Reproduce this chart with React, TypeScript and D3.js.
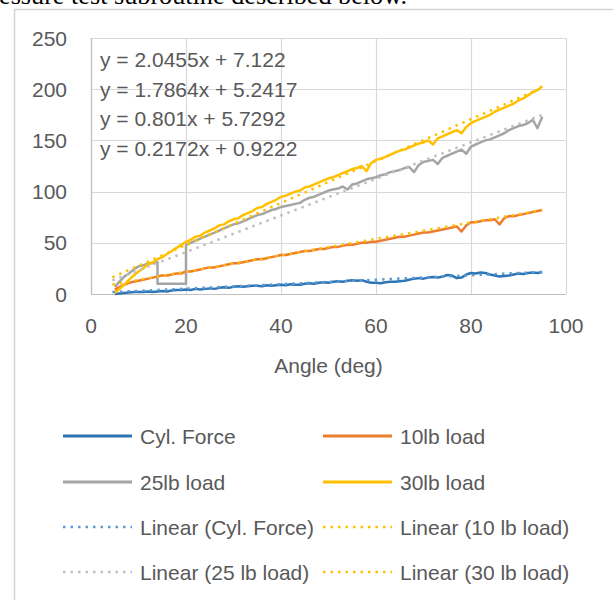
import React from "react";
import * as d3 from "d3";

const angles: number[] = d3.range(5, 96, 1);

const cylForce: number[] = [0, 0.5, 1, 1.5, 2, 2, 2, 2.5, 2, 2.5, 3, 2.5, 3.5, 4, 4, 4.5, 4, 5, 4.5, 5, 5.5, 5, 6, 6.5, 6, 7, 7.5, 7, 7.5, 8, 8, 7.5, 8.5, 8, 8.5, 9, 8.5, 9.5, 9, 9, 10, 10.5, 10, 11, 11.5, 11, 12, 12.5, 12, 13, 13.5, 13, 13.5, 12, 11, 11, 10.5, 11.5, 12, 12, 12.5, 13, 14, 15, 15.5, 15, 16, 16.5, 16, 17, 18.5, 18, 15.5, 16, 19, 20.5, 20, 21, 20.5, 19, 18, 17, 17.5, 18, 19, 20, 19.5, 20.5, 21, 20.5, 21.5];

const load10: number[] = [4, 7, 9, 11, 12, 13, 14, 15, 16, 17, 18, 18, 19, 20, 20, 22, 22, 23, 24, 25, 26, 26, 27, 28, 29, 30, 30, 31, 32, 33, 34, 34, 35, 36, 37, 38, 38, 39, 40, 41, 42, 42, 43, 44, 44, 45, 46, 46, 47, 48, 48, 49, 50, 50, 51, 51, 52, 53, 54, 55, 56, 56, 57, 58, 59, 60, 60, 61, 62, 63, 64, 65, 66, 61, 67, 70, 70, 71, 72, 72, 73, 68, 74, 76, 76, 77, 78, 79, 80, 81, 82];

const angles25: number[] = [5, 6, 7, 8, 9, 10, 11, 12, 13, 14, 14, 15, 16, 17, 18, 19, 20, 20, 21, 22, 23, 24, 25, 26, 27, 28, 29, 30, 31, 32, 33, 34, 35, 36, 37, 38, 39, 40, 41, 42, 43, 44, 45, 46, 47, 48, 49, 50, 51, 52, 53, 54, 55, 56, 57, 58, 59, 60, 61, 62, 63, 64, 65, 66, 67, 68, 69, 70, 71, 72, 73, 74, 75, 76, 77, 78, 79, 80, 81, 82, 83, 84, 85, 86, 87, 88, 89, 90, 91, 92, 93, 94, 95];
const load25: number[] = [7, 12, 17, 20, 24, 27, 28, 30, 30, 31, 10, 10, 10, 10, 10, 10, 10, 48, 50, 52, 54, 56, 58, 60, 62, 64, 66, 68, 69, 71, 73, 75, 77, 78, 80, 82, 83, 85, 86, 87, 88, 89, 92, 94, 95, 97, 99, 101, 102, 103, 105, 102, 107, 108, 110, 112, 113, 114, 116, 117, 119, 120, 121, 123, 124, 119, 126, 129, 130, 131, 127, 133, 135, 137, 139, 141, 137, 144, 146, 148, 150, 151, 153, 155, 157, 160, 162, 164, 165, 167, 170, 162, 173];

const load30: number[] = [1, 5, 9, 14, 18, 22, 25, 29, 31, 34, 36, 39, 42, 45, 48, 51, 53, 56, 57, 60, 62, 64, 67, 68, 71, 73, 74, 77, 79, 81, 84, 85, 88, 90, 92, 95, 96, 98, 100, 101, 104, 105, 107, 109, 111, 113, 114, 116, 118, 120, 122, 123, 125, 120, 128, 131, 132, 134, 136, 138, 140, 141, 143, 145, 147, 148, 150, 146, 152, 154, 156, 158, 160, 157, 163, 167, 169, 171, 173, 175, 178, 180, 182, 184, 186, 189, 191, 194, 197, 199, 203];

const seriesNames: string[] = ["Cyl. Force", "10lb load", "25lb load", "30lb load"];
const seriesColors: string[] = ["#2E75B6", "#ED7D31", "#A5A5A5", "#FFC000"];
const trendNames: string[] = ["Linear (Cyl. Force)", "Linear (10 lb load)", "Linear (25 lb load)", "Linear (30 lb load)"];
const trendColors: string[] = ["#5B9BD5", "#FFC000", "#BFBFBF", "#FFC000"];
const trendSlopes: number[] = [0.2172, 0.801, 1.7864, 2.0455];
const trendIntercepts: number[] = [0.9222, 5.7292, 5.2417, 7.122];
const equationLabels: string[] = ["y = 2.0455x + 7.122", "y = 1.7864x + 5.2417", "y = 0.801x + 5.7292", "y = 0.2172x + 0.9222"];
const xTicks: number[] = [0, 20, 40, 60, 80, 100];
const yTicks: number[] = [0, 50, 100, 150, 200, 250];

const FONT = "'Liberation Sans', Arial, sans-serif";
const TXT = "#595959";

export default function App() {
  const x = d3.scaleLinear().domain([0, 100]).range([91, 566]);
  const y = d3.scaleLinear().domain([0, 250]).range([294, 38]);

  const seriesData: [number, number][][] = [
    angles.map((a, i) => [a, cylForce[i]] as [number, number]),
    angles.map((a, i) => [a, load10[i]] as [number, number]),
    angles25.map((a, i) => [a, load25[i]] as [number, number]),
    angles.map((a, i) => [a, load30[i]] as [number, number]),
  ];
  const line = d3
    .line<[number, number]>()
    .x((d) => x(d[0]))
    .y((d) => y(d[1]));

  const xMin = d3.min(angles)!;
  const xMax = d3.max(angles)!;

  const legendItems = [
    { name: seriesNames[0], color: seriesColors[0], dotted: false },
    { name: seriesNames[1], color: seriesColors[1], dotted: false },
    { name: seriesNames[2], color: seriesColors[2], dotted: false },
    { name: seriesNames[3], color: seriesColors[3], dotted: false },
    { name: trendNames[0], color: trendColors[0], dotted: true },
    { name: trendNames[1], color: trendColors[1], dotted: true },
    { name: trendNames[2], color: trendColors[2], dotted: true },
    { name: trendNames[3], color: trendColors[3], dotted: true },
  ];
  const legendX = [63, 323];
  const legendY = [436, 482, 527, 572];

  return (
    <svg
      width={613}
      height={600}
      style={{ position: "absolute", left: 0, top: 0, background: "#fff" }}
    >
      <rect x={0} y={0} width={613} height={600} fill="#fff" />
      <text
        x={-1}
        y={4}
        fontFamily="'Liberation Serif', 'Times New Roman', serif"
        fontSize={26}
        fill="#000"
        textLength={408}
        lengthAdjust="spacingAndGlyphs"
      >
        essure test subroutine described below.
      </text>
      <rect x={14.5} y={9.5} width={640} height={640} fill="#fff" stroke="#D4D4D4" strokeWidth={1.5} />

      {/* grid */}
      {yTicks.map((t) => (
        <line key={"gy" + t} x1={x(0)} x2={x(100)} y1={Math.round(y(t)) + 0.5} y2={Math.round(y(t)) + 0.5} stroke="#D9D9D9" strokeWidth={1.2} />
      ))}
      {xTicks.map((t) => (
        <line key={"gx" + t} x1={Math.round(x(t)) + 0.5} x2={Math.round(x(t)) + 0.5} y1={y(250)} y2={y(0)} stroke="#D9D9D9" strokeWidth={1.2} />
      ))}
      <line x1={x(0)} x2={x(100)} y1={Math.round(y(0)) + 0.5} y2={Math.round(y(0)) + 0.5} stroke="#BFBFBF" strokeWidth={1.2} />
      <line x1={Math.round(x(0)) + 0.5} x2={Math.round(x(0)) + 0.5} y1={y(250)} y2={y(0)} stroke="#BFBFBF" strokeWidth={1.2} />

      {/* tick labels */}
      {yTicks.map((t) => (
        <text key={"ly" + t} x={67} y={y(t) + 7.5} textAnchor="end" fontFamily={FONT} fontSize={21} fill={TXT}>
          {t}
        </text>
      ))}
      {xTicks.map((t) => (
        <text key={"lx" + t} x={x(t)} y={333} textAnchor="middle" fontFamily={FONT} fontSize={21} fill={TXT}>
          {t}
        </text>
      ))}
      <text x={(x(0) + x(100)) / 2} y={373} textAnchor="middle" fontFamily={FONT} fontSize={21} fill={TXT}>
        Angle (deg)
      </text>

      {/* series */}
      {seriesData.map((d, i) => (
        <path key={"s" + i} d={line(d) || ""} fill="none" stroke={seriesColors[i]} strokeWidth={2.5} strokeLinejoin="round" />
      ))}

      {/* trendlines */}
      {trendSlopes.map((m, i) => {
        const pts: [number, number][] = [
          [xMin - 0.5, m * (xMin - 0.5) + trendIntercepts[i]],
          [xMax, m * xMax + trendIntercepts[i]],
        ];
        return (
          <path key={"t" + i} d={line(pts) || ""} fill="none" stroke={trendColors[i]} strokeWidth={2.5} strokeDasharray="2.5 5" />
        );
      })}

      {/* equations */}
      {equationLabels.map((e, i) => (
        <text key={"eq" + i} x={100} y={67 + i * 29.5} fontFamily={FONT} fontSize={21} fill={TXT}>
          {e}
        </text>
      ))}

      {/* legend */}
      {legendItems.map((it, i) => {
        const col = i % 2;
        const row = Math.floor(i / 2);
        const lx = legendX[col];
        const ly = legendY[row];
        return (
          <g key={"lg" + i}>
            <line
              x1={lx}
              x2={lx + 69}
              y1={ly}
              y2={ly}
              stroke={it.color}
              strokeWidth={it.dotted ? 2.5 : 3}
              strokeDasharray={it.dotted ? "2.5 5" : undefined}
            />
            <text x={lx + 77} y={ly + 7.5} fontFamily={FONT} fontSize={21} fill={TXT}>
              {it.name}
            </text>
          </g>
        );
      })}
    </svg>
  );
}
